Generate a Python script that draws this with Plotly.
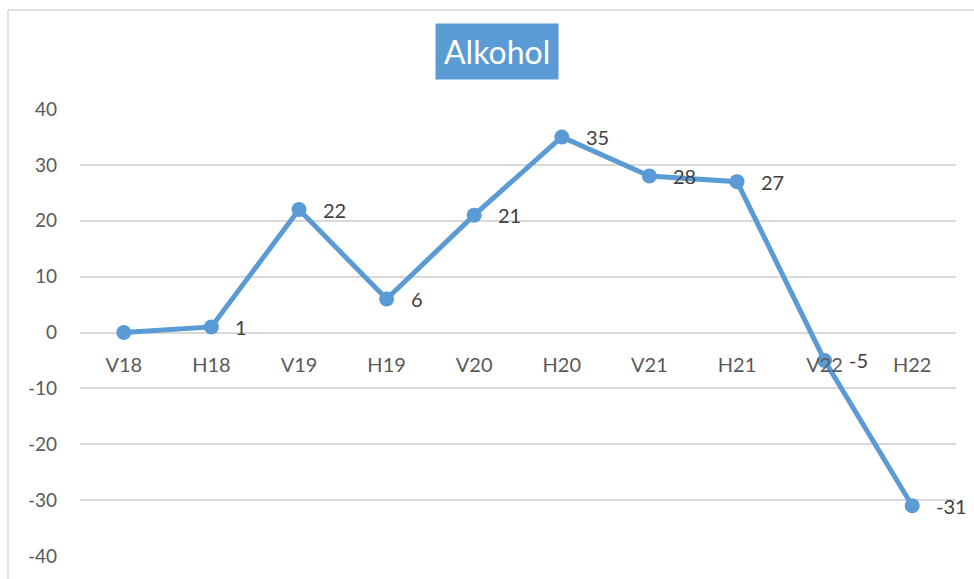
import plotly.graph_objects as go

categories = ["V18", "H18", "V19", "H19", "V20", "H20", "V21", "H21", "V22", "H22"]
values = [0, 1, 22, 6, 21, 35, 28, 27, -5, -31]
labels = ["", "1", "22", "6", "21", "35", "28", "27", "-5", "-31"]
y_ticks = [-40, -30, -20, -10, 0, 10, 20, 30, 40]
y_tick_text = ["-40", "-30", "-20", "-10", "0", "10", "20", "30", "40"]
title_text = "Alkohol"

BLUE = "#5B9BD5"
FONT = "Lato"

xs = list(range(len(categories)))

fig = go.Figure()
fig.add_trace(go.Scatter(
    x=xs,
    y=values,
    mode="lines+markers",
    line=dict(color=BLUE, width=5),
    marker=dict(color=BLUE, size=15),
    cliponaxis=False,
    showlegend=False,
    hoverinfo="skip",
))

annotations = [dict(
    text=title_text,
    xref="paper", yref="paper",
    x=0.476, y=1.0, yanchor="bottom",
    yshift=29,
    showarrow=False,
    bgcolor=BLUE,
    borderpad=8,
    font=dict(family=FONT, size=32, color="white"),
)]
for xi, yi, lab in zip(xs, values, labels):
    if lab:
        annotations.append(dict(
            x=xi, y=yi, xref="x", yref="y",
            text=lab, showarrow=False,
            xanchor="left", yanchor="middle",
            xshift=22,
            font=dict(family=FONT, size=20, color="#404040"),
        ))

fig.update_layout(
    width=974, height=579,
    margin=dict(l=80, r=18, t=109, b=23),
    paper_bgcolor="white",
    plot_bgcolor="white",
    xaxis=dict(
        range=[-0.5, len(categories) - 0.5],
        tickmode="array",
        tickvals=xs,
        ticktext=categories,
        anchor="free",
        position=0.5,
        showgrid=False,
        showline=False,
        zeroline=False,
        ticks="",
        ticklabelstandoff=18,
        tickfont=dict(family=FONT, size=20, color="#595959"),
    ),
    yaxis=dict(
        range=[-40, 40],
        tickmode="array",
        tickvals=y_ticks,
        ticktext=y_tick_text,
        showgrid=True,
        gridcolor="#D9D9D9",
        gridwidth=1.5,
        zeroline=True,
        zerolinecolor="#D9D9D9",
        zerolinewidth=1.5,
        showline=False,
        ticks="",
        ticklabelstandoff=22,
        tickfont=dict(family=FONT, size=19, color="#595959"),
    ),
    annotations=annotations,
    shapes=[
        dict(type="line", xref="paper", yref="paper", x0=-0.0822, x1=-0.0822, y0=-0.06, y1=1.2215,
             line=dict(color="#D9D9D9", width=1.5)),
        dict(type="line", xref="paper", yref="paper", x0=-0.0822, x1=1.03, y0=1.2215, y1=1.2215,
             line=dict(color="#D9D9D9", width=1.5)),
    ],
)

fig.write_html("out.html", post_script="document.body.style.margin='0';",
               config={"displayModeBar": False})
